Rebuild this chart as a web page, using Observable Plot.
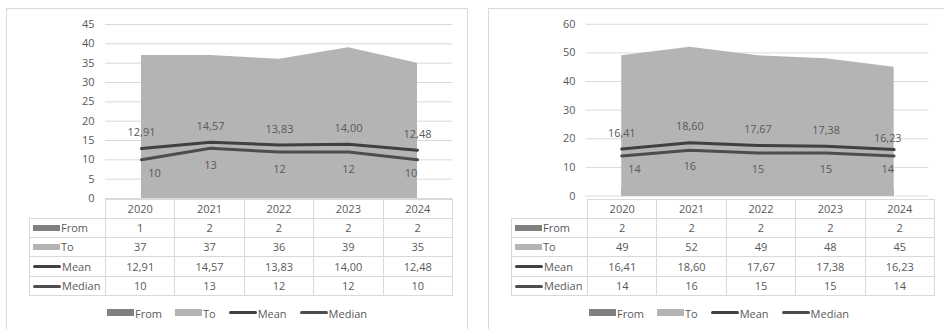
<!DOCTYPE html>
<html>
<head>
<meta charset="utf-8">
<script src="https://cdn.jsdelivr.net/npm/d3@7"></script>
<script src="https://cdn.jsdelivr.net/npm/@observablehq/plot@0.6"></script>
<style>
  html, body { margin: 0; padding: 0; background: #fff; }
  body { position: relative; width: 944px; height: 329px; overflow: hidden;
         font-family: "Open Sans", "Liberation Sans", Arial, sans-serif; color: #595959; }
  .frame { position: absolute; top: 8px; width: 462px; height: 340px;
           border: 1px solid #d9d9d9; box-sizing: border-box; }
  .chart { position: absolute; top: 8px; }
  .chart svg { overflow: visible; }
  table.dt { position: absolute; top: 199px; border-collapse: collapse; table-layout: fixed;
             font-size: 11px; color: #595959; }
  table.dt td { border: 1px solid #d9d9d9; text-align: center; padding: 0; height: 18.4px; line-height: 16px; }
  table.dt tr.head td { height: 17.7px; }
  table.dt td.blank { border: none; }
  table.dt td.lab { text-align: left; padding-left: 3px; white-space: nowrap; }
  .sw { display: inline-block; vertical-align: middle; margin-right: 1px; position: relative; top: -1px; }
  .legend { position: absolute; top: 306px; width: 462px; display: flex; justify-content: center;
            gap: 13px; font-size: 11px; color: #595959; }
  .legend span.item { display: inline-flex; align-items: center; }
</style>
</head>
<body>
<script>
// Years shown on both panels
const years = ["2020", "2021", "2022", "2023", "2024"];

// Left panel series
const fromLeft   = [1, 2, 2, 2, 2];
const toLeft     = [37, 37, 36, 39, 35];
const meanLeft   = [12.91, 14.57, 13.83, 14.00, 12.48];
const medianLeft = [10, 13, 12, 12, 10];
const ticksLeft  = [0, 5, 10, 15, 20, 25, 30, 35, 40, 45];

// Right panel series
const fromRight   = [2, 2, 2, 2, 2];
const toRight     = [49, 52, 49, 48, 45];
const meanRight   = [16.41, 18.60, 17.67, 17.38, 16.23];
const medianRight = [14, 16, 15, 15, 14];
const ticksRight  = [0, 10, 20, 30, 40, 50, 60];

const seriesNames = ["From", "To", "Mean", "Median"];

const COLORS = { From: "#7f7f7f", To: "#b4b4b4", Mean: "#404040", Median: "#4d4d4d" };
const TEXT = "#595959";
const GRID = "#d9d9d9";
const FONT = "Open Sans, Liberation Sans, Arial, sans-serif";
const FS = 11;

const fmt2 = v => d3.format(".2f")(v).replace(".", ",");
const fmt0 = v => String(v);

function panel(ox, from, to, mean, median, ticks, meanLastNudge) {
  const rows = years.map((year, i) => ({ i, year, from: from[i], to: to[i], mean: mean[i], median: median[i] }));
  const n = rows.length;
  const first = d => d.i === 0, last = d => d.i === n - 1, middle = d => d.i > 0 && d.i < n - 1;

  // frame
  const frame = document.createElement("div");
  frame.className = "frame";
  frame.style.left = ox + "px";
  document.body.appendChild(frame);

  const textOpts = { fill: TEXT, fontSize: FS, fontFamily: FONT };

  const svg = Plot.plot({
    width: 462,
    height: 192,
    marginLeft: 99,
    marginRight: 16,
    marginTop: 16,
    marginBottom: 2,
    style: { fontFamily: FONT, fontSize: FS + "px", color: TEXT, background: "transparent" },
    x: { type: "point", domain: years, padding: 0.5, axis: null },
    y: { domain: [ticks[0], ticks[ticks.length - 1]], axis: null },
    marks: [
      Plot.gridY(ticks, { stroke: GRID, strokeOpacity: 1, strokeWidth: 1 }),
      Plot.areaY(rows, { x: "year", y: "from", fill: COLORS.From, curve: "linear" }),
      Plot.areaY(rows, { x: "year", y: "to", fill: COLORS.To, curve: "linear" }),
      Plot.line(rows, { x: "year", y: "mean", stroke: COLORS.Mean, strokeWidth: 3 }),
      Plot.line(rows, { x: "year", y: "median", stroke: COLORS.Median, strokeWidth: 3 }),
      // mean labels above the line
      Plot.text(rows, { filter: d => !last(d), x: "year", y: "mean", text: d => fmt2(d.mean), dy: -16, ...textOpts }),
      Plot.text(rows, { filter: last, x: "year", y: "mean", text: d => fmt2(d.mean),
                        dx: meanLastNudge.dx, dy: meanLastNudge.dy, ...textOpts }),
      // median labels below the line
      Plot.text(rows, { filter: first, x: "year", y: "median", text: d => fmt0(d.median), dx: 13, dy: 14, ...textOpts }),
      Plot.text(rows, { filter: middle, x: "year", y: "median", text: d => fmt0(d.median), dy: 17, ...textOpts }),
      Plot.text(rows, { filter: last, x: "year", y: "median", text: d => fmt0(d.median), dx: -6.5, dy: 14, ...textOpts }),
      Plot.axisY(ticks, { tickSize: 0, tickPadding: 11, fontSize: FS, fill: TEXT, tickFormat: d => String(d) })
    ]
  });
  const wrap = document.createElement("div");
  wrap.className = "chart";
  wrap.style.left = ox + "px";
  wrap.appendChild(svg);
  document.body.appendChild(wrap);

  // data table under the chart
  const table = document.createElement("table");
  table.className = "dt";
  table.style.left = (ox + 23) + "px";
  const cg = document.createElement("colgroup");
  [76, 69.4, 69.4, 69.4, 69.4, 69.4].forEach(w => {
    const c = document.createElement("col"); c.style.width = w + "px"; cg.appendChild(c);
  });
  table.appendChild(cg);
  table.style.width = (76 + 5 * 69.4) + "px";

  const head = document.createElement("tr");
  head.className = "head";
  const blank = document.createElement("td"); blank.className = "blank"; head.appendChild(blank);
  years.forEach(y => { const td = document.createElement("td"); td.textContent = y; head.appendChild(td); });
  table.appendChild(head);

  const values = { From: from.map(fmt0), To: to.map(fmt0), Mean: mean.map(fmt2), Median: median.map(fmt0) };
  seriesNames.forEach(name => {
    const tr = document.createElement("tr");
    const lab = document.createElement("td");
    lab.className = "lab";
    lab.appendChild(swatch(name, 27, 6));
    lab.appendChild(document.createTextNode(name));
    tr.appendChild(lab);
    values[name].forEach(v => { const td = document.createElement("td"); td.textContent = v; tr.appendChild(td); });
    table.appendChild(tr);
  });
  document.body.appendChild(table);

  // legend
  const legend = document.createElement("div");
  legend.className = "legend";
  legend.style.left = ox + "px";
  seriesNames.forEach(name => {
    const item = document.createElement("span");
    item.className = "item";
    item.appendChild(swatch(name, 27, 7));
    item.appendChild(document.createTextNode(name));
    legend.appendChild(item);
  });
  document.body.appendChild(legend);
}

function swatch(name, w, h) {
  const s = document.createElement("span");
  s.className = "sw";
  const isLine = name === "Mean" || name === "Median";
  s.style.width = (isLine ? w + 1 : w) + "px";
  s.style.height = (isLine ? 3 : h) + "px";
  s.style.background = COLORS[name];
  if (isLine) s.style.borderRadius = "1.5px";
  return s;
}

panel(6, fromLeft, toLeft, meanLeft, medianLeft, ticksLeft, { dx: 0, dy: -16 });
panel(488, fromRight, toRight, meanRight, medianRight, ticksRight, { dx: -6.5, dy: -11 });
</script>
</body>
</html>
